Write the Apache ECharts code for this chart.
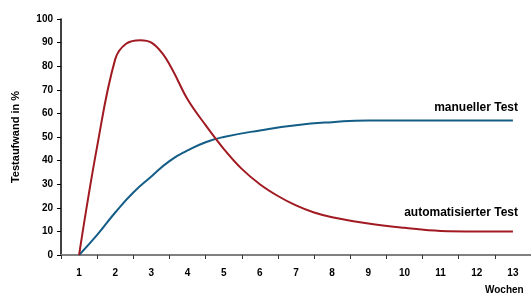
<!DOCTYPE html>
<html>
<head>
<meta charset="utf-8">
<script src="https://cdn.jsdelivr.net/npm/echarts@6/dist/echarts.min.js"></script>
<style>
  html, body { margin: 0; padding: 0; background: #fff; }
  #chart { width: 531px; height: 293px; }
</style>
</head>
<body>
<div id="chart"></div>
<script>
// Wochen (x axis categories)
var weeks = ['1', '2', '3', '4', '5', '6', '7', '8', '9', '10', '11', '12', '13'];
var yTicks = [0, 10, 20, 30, 40, 50, 60, 70, 80, 90, 100];

// manueller Test
var manuellX = [1, 1.5, 2, 2.5, 3, 3.5, 4, 4.5, 5, 6, 7, 8, 9, 10, 11, 12, 13];
var manuellY = [0, 8.5, 18, 26.5, 33.3, 39.8, 44.3, 47.8, 50, 52.8, 55, 56.3, 57, 57, 57, 57, 57];

// automatisierter Test
var autoX = [1, 1.5, 2, 2.3, 2.7, 3, 3.3, 3.6, 4, 4.5, 5, 5.5, 6, 6.5, 7, 7.5, 8, 9, 10, 11, 12, 13];
var autoY = [0, 46, 83, 89.5, 91, 90, 85.5, 78, 66, 55, 45, 36.5, 30, 25, 21, 18, 16, 13.3, 11.5, 10.2, 10, 10];

function pairs(xs, ys) {
    return xs.map(function (x, i) { return [x, ys[i]]; });
}

var dom = document.getElementById('chart');
var myChart = echarts.init(dom);
var font = 'Liberation Sans, Arial, sans-serif';

var option = {
    animation: false,
    grid: { left: 61, right: -4, top: 19, bottom: 38 },
    xAxis: [
        {
            type: 'category',
            data: weeks,
            boundaryGap: true,
            axisLine: { lineStyle: { color: '#808080', width: 2 } },
            axisTick: { show: true, length: 4, lineStyle: { color: '#333', width: 1 } },
            axisLabel: { color: '#000', fontFamily: font, fontWeight: 'bold', fontSize: 10, margin: 13 },
            splitLine: { show: false }
        },
        {
            type: 'value',
            min: 0.5,
            max: 13.5,
            show: false
        }
    ],
    yAxis: {
        type: 'value',
        min: yTicks[0],
        max: yTicks[yTicks.length - 1],
        interval: 10,
        name: 'Testaufwand in %',
        nameLocation: 'middle',
        nameGap: 40,
        nameTextStyle: { color: '#000', fontFamily: font, fontWeight: 'bold', fontSize: 11 },
        axisLine: { show: true, lineStyle: { color: '#000', width: 1.5 } },
        axisTick: { show: true, length: 4, lineStyle: { color: '#000' } },
        axisLabel: { color: '#000', fontFamily: font, fontWeight: 'bold', fontSize: 10, margin: 8 },
        splitLine: { show: false }
    },
    graphic: [
        {
            type: 'text', left: 485, top: 285,
            style: { text: 'Wochen', fill: '#000', font: 'bold 10px ' + font }
        },
        {
            type: 'text', right: 13, top: 102,
            style: { text: 'manueller Test', fill: '#000', font: 'bold 12px ' + font }
        },
        {
            type: 'text', right: 13, top: 207,
            style: { text: 'automatisierter Test', fill: '#000', font: 'bold 12px ' + font }
        }
    ],
    series: [
        {
            name: 'manueller Test',
            type: 'line',
            xAxisIndex: 1,
            data: pairs(manuellX, manuellY),
            smooth: 0.5,
            symbol: 'none',
            lineStyle: { color: '#135d86', width: 2 }
        },
        {
            name: 'automatisierter Test',
            type: 'line',
            xAxisIndex: 1,
            data: pairs(autoX, autoY),
            smooth: 0.4,
            symbol: 'none',
            lineStyle: { color: '#a11a22', width: 2 }
        }
    ]
};
myChart.setOption(option, true);
</script>
</body>
</html>
